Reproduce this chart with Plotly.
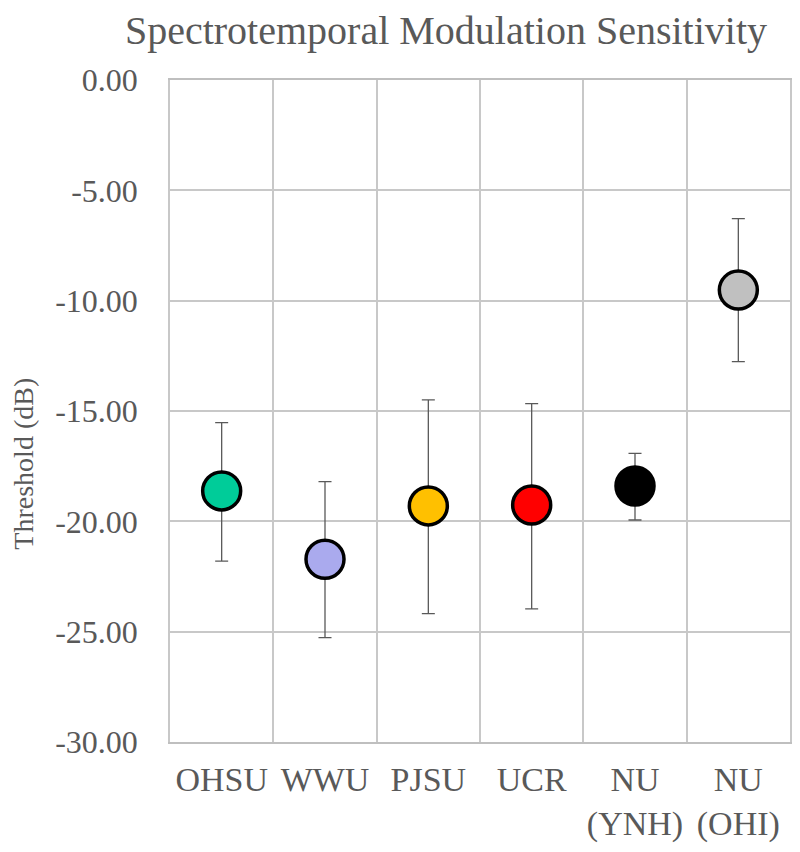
import plotly.graph_objects as go

sites = ["OHSU", "WWU", "PJSU", "UCR", "NU<br>(YNH)", "NU<br>(OHI)"]
thresholds = [-18.62, -21.72, -19.30, -19.26, -18.40, -9.52]
err_upper = [-15.53, -18.20, -14.50, -14.67, -16.92, -6.28]
err_lower = [-21.80, -25.27, -24.18, -23.97, -19.94, -12.76]
colors = ["#00CC99", "#AAAAEE", "#FFC000", "#FF0000", "#000000", "#C0C0C0"]
y_ticks = [0, -5, -10, -15, -20, -25, -30]

x_pos = [i + 0.5 for i in range(len(sites))]
plus = [u - t for u, t in zip(err_upper, thresholds)]
minus = [t - l for t, l in zip(thresholds, err_lower)]

fig = go.Figure()
fig.add_trace(go.Scatter(
    x=x_pos, y=thresholds, mode="markers",
    marker=dict(size=38, color=colors, line=dict(color="#000000", width=3.5)),
    error_y=dict(type="data", symmetric=False, array=plus, arrayminus=minus,
                 color="#595959", thickness=1.3, width=6.5),
    showlegend=False,
))

font_family = "Liberation Serif, Times New Roman, serif"
fig.update_layout(
    width=792, height=844,
    margin=dict(l=162, r=10, t=72, b=110),
    paper_bgcolor="white", plot_bgcolor="white",
    title=dict(text="Spectrotemporal Modulation Sensitivity",
               font=dict(family=font_family, size=40, color="#595959"),
               x=0.553, xanchor="center", y=0.99, yanchor="top"),
    font=dict(family=font_family, color="#595959"),
)
fig.add_annotation(
    text="Threshold (dB)", textangle=-90, showarrow=False,
    xref="paper", yref="paper", x=-0.236, y=0.42, xanchor="center", yanchor="middle",
    font=dict(family=font_family, size=28, color="#595959"),
)
fig.update_xaxes(
    range=[0, len(sites)], tickvals=x_pos, ticktext=sites,
    tickfont=dict(size=34, color="#595959"), showgrid=False, automargin=False,
    ticks="", zeroline=False, ticklabelstandoff=6,
    showline=True, linecolor="#BFBFBF", linewidth=1.5, mirror=True,
    minor=dict(tick0=0, dtick=1, showgrid=True, gridcolor="#C8C8C8", gridwidth=1.5),
)
fig.update_yaxes(
    range=[-30, 0], tickvals=y_ticks, ticktext=[f"{v:.2f}" for v in y_ticks],
    tickfont=dict(size=32, color="#595959"), automargin=False,
    showgrid=True, gridcolor="#C8C8C8", gridwidth=1.5, zeroline=False,
    showline=True, linecolor="#C8C8C8", linewidth=1.5, mirror=True,
    ticklabelstandoff=24,
)
fig.write_html("out.html")
